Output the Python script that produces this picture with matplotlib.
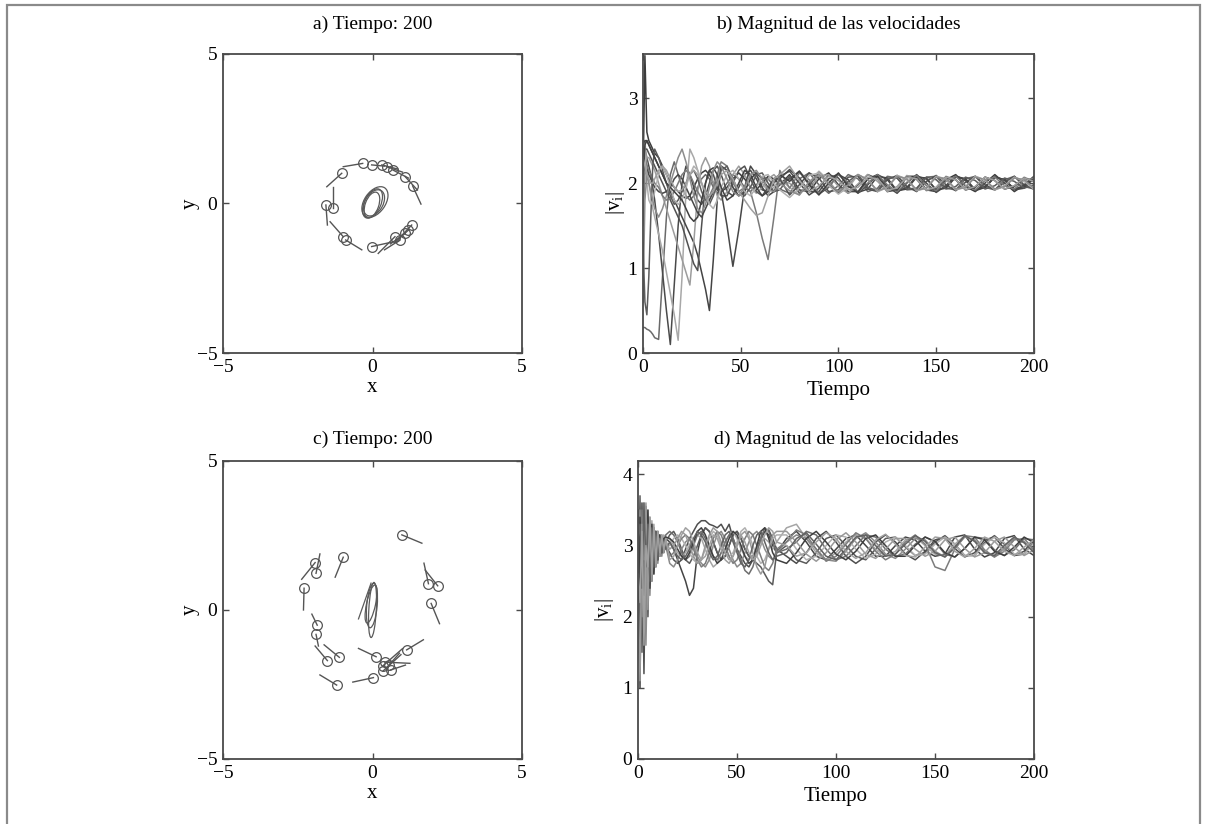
import numpy as np
import matplotlib
matplotlib.use("Agg")
import matplotlib.pyplot as plt
from matplotlib.patches import Ellipse

plt.rcParams['font.family'] = ['Liberation Serif', 'DejaVu Serif']
plt.rcParams['mathtext.fontset'] = 'custom'
plt.rcParams['mathtext.rm'] = 'Liberation Serif'
plt.rcParams['mathtext.it'] = 'Liberation Serif:italic'

# ---- panel a: positions (circles) and velocity tails ----
a_x = [-0.33, -0.03, 0.31, 0.47, 0.68, 1.09, 1.34, -1.03, -1.56, -1.33, -0.98, -0.90, -0.03, 0.75, 0.92, 1.09, 1.20, 1.31]
a_y = [1.34, 1.29, 1.29, 1.23, 1.12, 0.90, 0.59, 1.01, -0.05, -0.16, -1.11, -1.22, -1.44, -1.11, -1.22, -1.00, -0.89, -0.72]
a_tx = [-0.98, 0.40, 0.85, 1.00, 1.20, 1.50, 1.62, -1.53, -1.51, -1.33, -1.42, -0.36, 0.70, 0.19, 0.40, 0.60, 0.75, 0.90]
a_ty = [1.23, 1.25, 1.15, 1.05, 0.85, 0.45, -0.02, 0.56, -0.72, 0.54, -0.61, -1.55, -1.28, -1.67, -1.55, -1.35, -1.30, -1.15]
# central loops (cx, cy, width, height, angle)
a_loops = [(0.00, 0.00, 0.55, 1.05, -25), (0.08, 0.05, 0.70, 1.15, -35),
           (-0.02, -0.05, 0.45, 0.90, -20), (0.05, 0.02, 0.60, 0.95, -30)]

# ---- panel c ----
c_x = [0.98, -0.98, -1.92, -1.89, -2.29, 1.87, 2.18, 1.96, -1.85, -1.89, -1.51, -1.11, 0.12, -1.20, 0.03, 1.14, 0.34, 0.41, 0.35, 0.61, 0.55]
c_y = [2.52, 1.77, 1.59, 1.23, 0.73, 0.88, 0.81, 0.22, -0.51, -0.82, -1.70, -1.59, -1.57, -2.52, -2.27, -1.34, -1.88, -1.75, -2.05, -2.01, -1.85]
c_tx = [1.65, -1.25, -2.37, -1.76, -2.31, 1.72, 1.76, 2.24, -2.03, -1.81, -1.92, -1.62, -0.47, -1.76, -0.66, 1.70, 1.00, 1.25, 0.95, 1.10, 0.90]
c_ty = [2.24, 1.10, 1.03, 1.88, 0.00, 1.57, 1.34, -0.46, -0.14, -1.21, -1.21, -1.17, -1.29, -2.18, -2.42, -1.00, -1.30, -1.79, -1.50, -1.85, -1.45]
c_loops = [(-0.02, 0.15, 0.35, 1.50, -5), (0.00, 0.00, 0.25, 1.85, -3), (-0.05, 0.20, 0.30, 1.30, -12)]
c_path_x = [-0.05, -0.47]
c_path_y = [0.90, -0.30]

# ---- panel b: |v_i| vs time ----
tb = [0, 1, 2, 3, 4, 5, 6] + list(range(8, 41, 2)) + list(range(43, 71, 3)) + list(range(75, 201, 5))
b_early = [
    [2.0, 3.5, 2.6, 2.5, 2.45, 2.4, 2.35, 2.3, 2.2, 2.1, 2.0, 1.95, 1.9, 1.85, 1.82, 1.85, 1.95, 2.05, 2.12, 2.15, 2.1, 2.0, 1.92, 1.9, 1.95, 2.05, 2.12, 2.05, 1.95, 1.92, 2.0, 2.08, 2.05, 1.98],
    [0.3, 0.3, 0.28, 0.27, 0.25, 0.22, 0.18, 0.16, 0.9, 1.6, 2.1, 2.25, 2.1, 1.95, 1.85, 1.8, 1.85, 1.95, 2.05, 2.1, 2.05, 1.95, 1.88, 1.9, 2.0, 2.1, 2.05, 1.95, 1.9, 1.98, 2.06, 2.05, 1.97, 1.93],
    [2.2, 2.4, 2.3, 2.2, 2.1, 1.95, 1.8, 1.4, 0.95, 0.5, 0.1, 0.8, 1.5, 2.0, 2.2, 2.1, 1.95, 1.8, 1.75, 1.85, 2.0, 2.15, 2.2, 2.1, 1.9, 1.85, 1.95, 2.1, 2.15, 2.05, 1.92, 1.9, 2.0, 2.08],
    [1.8, 2.5, 2.2, 2.0, 1.85, 1.7, 1.6, 1.4, 1.2, 0.95, 0.7, 0.45, 0.15, 0.9, 1.9, 2.4, 2.3, 2.15, 2.0, 1.85, 1.8, 1.9, 2.05, 2.2, 2.15, 1.95, 1.85, 1.9, 2.05, 2.1, 2.0, 1.9, 1.95, 2.05],
    [2.4, 2.5, 2.5, 2.45, 2.4, 2.35, 2.3, 2.2, 2.1, 2.0, 1.9, 1.8, 1.7, 1.6, 1.5, 1.4, 1.3, 1.15, 0.95, 0.75, 0.5, 1.1, 1.8, 2.2, 2.15, 1.95, 1.85, 1.9, 2.05, 2.12, 2.05, 1.95, 1.9, 1.98],
    [2.0, 2.2, 2.3, 2.3, 2.25, 2.2, 2.15, 2.0, 1.85, 1.7, 1.55, 1.4, 1.25, 1.1, 0.95, 0.8, 1.3, 1.9, 2.2, 2.3, 2.2, 2.0, 1.85, 1.8, 1.9, 2.1, 2.2, 2.1, 1.95, 1.88, 1.95, 2.05, 2.1, 2.02],
    [2.3, 2.4, 2.4, 2.35, 2.3, 2.25, 2.2, 2.1, 2.0, 1.9, 1.8, 1.7, 1.6, 1.5, 1.35, 1.2, 1.05, 0.97, 1.5, 2.0, 2.15, 2.1, 1.95, 1.85, 1.85, 2.0, 2.15, 2.2, 2.05, 1.9, 1.85, 1.95, 2.05, 2.05],
    [2.1, 2.3, 2.2, 2.1, 2.05, 2.0, 1.95, 1.9, 1.88, 1.9, 1.95, 2.05, 2.1, 2.05, 1.95, 1.85, 1.75, 1.65, 1.6, 1.7, 1.8, 1.9, 1.95, 1.9, 1.5, 1.02, 1.45, 1.95, 2.2, 2.1, 1.95, 1.85, 1.9, 2.05],
    [1.5, 2.1, 2.2, 2.15, 2.1, 2.05, 2.0, 1.95, 1.85, 1.8, 1.82, 1.9, 2.0, 2.1, 2.15, 2.1, 2.0, 1.9, 1.82, 1.8, 1.85, 1.95, 2.1, 2.25, 2.2, 2.0, 1.9, 1.95, 1.9, 1.65, 1.35, 1.1, 1.6, 2.15],
    [1.3, 0.6, 0.45, 0.9, 1.6, 2.2, 2.4, 2.3, 2.15, 2.0, 1.85, 1.75, 1.8, 1.9, 2.0, 2.1, 2.15, 2.05, 1.9, 1.8, 1.75, 1.85, 2.0, 2.15, 2.2, 2.05, 1.9, 1.85, 1.95, 2.1, 2.12, 2.0, 1.9, 1.92],
    [2.5, 2.4, 2.0, 1.8, 1.75, 1.8, 1.9, 2.1, 2.2, 2.1, 1.95, 1.8, 1.75, 1.8, 1.95, 2.1, 2.2, 2.15, 2.0, 1.85, 1.75, 1.7, 1.8, 1.95, 2.1, 2.15, 2.05, 1.9, 1.85, 1.95, 2.08, 2.1, 2.0, 1.92],
    [2.0, 2.45, 2.5, 2.45, 2.4, 2.35, 2.3, 2.2, 2.1, 2.0, 1.95, 1.9, 1.85, 1.8, 1.7, 1.6, 1.55, 1.6, 1.8, 2.0, 2.15, 2.18, 2.1, 1.95, 1.8, 1.85, 2.0, 2.15, 2.1, 1.95, 1.85, 1.9, 2.05, 2.1],
    [0.6, 1.8, 2.1, 2.0, 1.9, 1.8, 1.7, 1.6, 1.7, 1.85, 2.0, 2.15, 2.3, 2.4, 2.25, 2.05, 1.85, 1.7, 1.65, 1.75, 1.95, 2.15, 2.25, 2.2, 2.05, 1.9, 1.85, 1.95, 2.1, 2.15, 2.05, 1.92, 1.9, 2.0],
    [2.3, 2.2, 2.1, 2.05, 2.0, 2.0, 2.05, 2.15, 2.2, 2.15, 2.05, 1.95, 1.9, 1.92, 2.0, 2.1, 2.15, 2.1, 2.0, 1.9, 1.85, 1.9, 2.0, 2.1, 2.15, 2.05, 1.9, 1.8, 1.7, 1.62, 1.65, 1.85, 2.05, 2.1],
]
b_late = [
    [2.10, 1.92, 1.90, 2.05, 2.12, 1.98, 1.88, 1.98, 2.10, 2.05, 1.90, 1.92, 2.08, 2.08, 1.92, 1.90, 2.04, 2.10, 1.96, 1.90, 2.00, 2.10, 2.00, 1.90, 1.98, 2.08],
    [1.88, 2.05, 2.12, 1.98, 1.88, 1.97, 2.10, 2.05, 1.90, 1.94, 2.08, 2.06, 1.92, 1.93, 2.07, 2.08, 1.94, 1.92, 2.05, 2.08, 1.95, 1.92, 2.04, 2.08, 1.96, 1.93],
    [2.14, 2.00, 1.86, 1.94, 2.10, 2.06, 1.90, 1.90, 2.05, 2.10, 1.96, 1.88, 2.00, 2.10, 2.00, 1.89, 1.97, 2.09, 2.03, 1.91, 1.95, 2.07, 2.04, 1.92, 1.94, 2.06],
    [1.95, 1.86, 2.00, 2.14, 2.03, 1.88, 1.94, 2.10, 2.04, 1.90, 1.95, 2.09, 2.05, 1.91, 1.94, 2.08, 2.05, 1.92, 1.95, 2.08, 2.04, 1.92, 1.96, 2.07, 2.03, 1.93],
    [2.05, 2.14, 2.00, 1.87, 1.95, 2.10, 2.04, 1.89, 1.93, 2.08, 2.06, 1.91, 1.93, 2.07, 2.06, 1.92, 1.94, 2.07, 2.05, 1.92, 1.95, 2.07, 2.04, 1.93, 1.95, 2.06],
    [2.00, 1.89, 1.94, 2.08, 2.10, 1.96, 1.88, 1.99, 2.10, 2.02, 1.90, 1.96, 2.09, 2.04, 1.91, 1.95, 2.08, 2.04, 1.92, 1.96, 2.07, 2.03, 1.93, 1.97, 2.07, 2.02],
    [1.86, 1.98, 2.12, 2.06, 1.90, 1.92, 2.07, 2.08, 1.93, 1.90, 2.04, 2.09, 1.96, 1.90, 2.02, 2.09, 1.98, 1.91, 2.01, 2.08, 1.98, 1.92, 2.01, 2.08, 1.98, 1.93],
    [2.16, 2.06, 1.90, 1.90, 2.05, 2.11, 1.98, 1.88, 1.98, 2.10, 2.04, 1.90, 1.95, 2.08, 2.05, 1.92, 1.95, 2.08, 2.05, 1.92, 1.96, 2.07, 2.04, 1.93, 1.97, 2.06],
    [1.94, 2.12, 2.04, 1.88, 1.96, 2.10, 2.00, 1.89, 2.00, 2.10, 1.98, 1.90, 2.01, 2.09, 1.97, 1.91, 2.02, 2.08, 1.97, 1.92, 2.03, 2.07, 1.97, 1.93, 2.03, 2.06],
    [2.08, 1.88, 1.97, 2.12, 1.99, 1.88, 2.02, 2.10, 1.95, 1.91, 2.06, 2.06, 1.93, 1.94, 2.07, 2.04, 1.93, 1.96, 2.07, 2.03, 1.93, 1.97, 2.06, 2.02, 1.94, 1.98],
    [1.83, 1.94, 2.09, 2.12, 1.97, 1.87, 1.96, 2.10, 2.04, 1.90, 1.95, 2.09, 2.04, 1.91, 1.95, 2.08, 2.04, 1.92, 1.96, 2.08, 2.03, 1.92, 1.97, 2.07, 2.02, 1.93],
    [2.02, 2.14, 1.98, 1.86, 2.00, 2.12, 1.96, 1.89, 2.05, 2.08, 1.93, 1.92, 2.07, 2.05, 1.92, 1.94, 2.07, 2.04, 1.92, 1.95, 2.07, 2.03, 1.93, 1.96, 2.06, 2.02],
    [1.91, 1.86, 2.02, 2.10, 2.00, 1.90, 1.98, 2.10, 2.04, 1.91, 1.95, 2.08, 2.05, 1.92, 1.94, 2.07, 2.05, 1.93, 1.95, 2.07, 2.04, 1.93, 1.96, 2.06, 2.04, 1.94],
    [2.20, 2.03, 1.90, 1.97, 2.08, 2.03, 1.92, 1.95, 2.07, 2.05, 1.92, 1.94, 2.07, 2.05, 1.92, 1.95, 2.07, 2.04, 1.92, 1.96, 2.07, 2.03, 1.93, 1.97, 2.06, 2.02],
]
b_gray = ['#3c3c3c', '#6a6a6a', '#4a4a4a', '#a8a8a8', '#444444', '#9c9c9c', '#505050',
          '#474747', '#7a7a7a', '#5c5c5c', '#b0b0b0', '#404040', '#8c8c8c', '#a0a0a0']

# ---- panel d ----
td = list(range(0, 15)) + list(range(16, 71, 2)) + list(range(75, 201, 5))
d_early = [
    [3.0, 1.0, 3.6, 1.8, 3.4, 2.3, 3.3, 2.6, 3.2, 2.8, 3.15, 2.9, 3.1, 2.95, 3.1],
    [2.0, 3.7, 1.5, 3.5, 2.1, 3.4, 2.5, 3.3, 2.7, 3.2, 2.85, 3.15, 2.9, 3.1, 3.05],
    [3.5, 2.2, 3.4, 1.2, 3.3, 2.0, 3.25, 2.5, 3.2, 2.7, 3.1, 2.85, 3.1, 2.9, 3.0],
    [1.5, 3.3, 2.5, 3.6, 2.2, 3.5, 2.5, 3.35, 2.7, 3.2, 2.8, 3.15, 2.9, 3.15, 3.1],
    [2.8, 3.5, 2.0, 3.3, 1.6, 3.2, 2.3, 3.2, 2.6, 3.15, 2.75, 3.1, 2.85, 3.05, 3.0],
    [3.2, 1.4, 3.1, 2.6, 3.55, 2.4, 3.3, 2.55, 3.25, 2.75, 3.2, 2.85, 3.15, 2.95, 3.15],
    [2.5, 3.0, 3.4, 1.9, 3.45, 2.6, 3.3, 2.65, 3.2, 2.8, 3.1, 2.9, 3.1, 2.95, 3.05],
    [3.3, 2.6, 3.5, 2.3, 3.2, 2.8, 3.4, 2.7, 3.25, 2.8, 3.2, 2.9, 3.12, 2.95, 2.98],
    [1.8, 3.4, 2.7, 3.2, 2.9, 3.5, 2.4, 3.3, 2.6, 3.2, 2.8, 3.15, 2.9, 3.1, 3.12],
    [2.2, 1.1, 3.3, 2.8, 3.6, 2.1, 3.35, 2.5, 3.2, 2.7, 3.15, 2.85, 3.1, 2.9, 3.05],
    [3.1, 3.3, 2.4, 3.6, 2.7, 3.3, 2.5, 3.25, 2.7, 3.2, 2.8, 3.1, 2.9, 3.05, 2.95],
    [2.6, 2.2, 3.2, 1.6, 3.0, 2.7, 3.4, 2.6, 3.3, 2.75, 3.2, 2.9, 3.15, 2.95, 3.1],
]
d_mid = [
    [3.05, 2.95, 2.8, 2.65, 2.5, 2.3, 2.4, 2.9, 3.15, 3.25, 3.2, 3.05, 2.9, 2.8, 2.85, 3.0, 3.15, 3.2, 3.1, 2.95, 2.85, 2.85, 2.95, 3.1, 3.2, 3.15, 3.0, 2.9],
    [3.15, 3.2, 3.1, 2.95, 2.8, 2.75, 2.85, 3.0, 3.15, 3.25, 3.2, 3.05, 2.9, 2.8, 2.85, 3.0, 3.15, 3.2, 3.1, 2.95, 2.85, 2.8, 2.75, 2.7, 2.6, 2.5, 2.45, 2.9],
    [2.9, 2.8, 2.75, 2.8, 2.95, 3.1, 3.2, 3.3, 3.35, 3.35, 3.3, 3.28, 3.25, 3.3, 3.2, 3.3, 3.1, 2.95, 2.85, 2.75, 2.7, 2.8, 2.95, 3.1, 3.2, 3.22, 3.1, 2.95],
    [3.1, 3.0, 2.9, 2.85, 2.9, 3.0, 3.1, 3.15, 3.1, 2.95, 2.8, 2.7, 2.75, 2.9, 3.05, 3.15, 3.2, 3.1, 2.95, 2.85, 2.8, 2.85, 2.95, 3.05, 3.1, 3.05, 2.95, 3.05],
    [2.75, 2.7, 2.8, 2.95, 3.05, 3.1, 3.0, 2.85, 2.75, 2.7, 2.8, 3.0, 3.15, 3.2, 3.1, 2.95, 2.8, 2.7, 2.75, 2.9, 3.05, 3.15, 3.2, 3.1, 2.95, 2.85, 2.8, 2.9],
    [3.2, 3.15, 3.05, 2.9, 2.8, 2.85, 3.0, 3.15, 3.2, 3.1, 2.95, 2.85, 2.8, 2.9, 3.05, 3.15, 3.1, 2.95, 2.8, 2.65, 2.6, 2.7, 2.9, 3.1, 3.25, 3.2, 3.05, 2.9],
    [3.0, 3.1, 3.15, 3.1, 3.0, 2.9, 2.8, 2.75, 2.8, 2.95, 3.1, 3.2, 3.15, 3.0, 2.9, 2.85, 2.9, 3.05, 3.2, 3.25, 3.15, 3.0, 2.85, 2.75, 2.8, 2.95, 3.1, 3.15],
    [2.85, 2.9, 3.0, 3.1, 3.15, 3.1, 2.95, 2.8, 2.7, 2.75, 2.9, 3.1, 3.2, 3.15, 3.0, 2.85, 2.75, 2.8, 2.95, 3.1, 3.2, 3.15, 3.0, 2.85, 2.7, 2.65, 2.75, 2.95],
    [3.1, 3.05, 2.95, 2.85, 2.8, 2.9, 3.05, 3.2, 3.25, 3.15, 3.0, 2.85, 2.75, 2.8, 2.95, 3.1, 3.2, 3.15, 3.0, 2.85, 2.75, 2.8, 3.0, 3.2, 3.25, 3.1, 2.9, 2.8],
    [2.95, 3.0, 3.1, 3.2, 3.15, 3.0, 2.85, 2.75, 2.8, 3.0, 3.15, 3.25, 3.2, 3.05, 2.9, 2.8, 2.85, 3.0, 3.15, 3.2, 3.1, 2.9, 2.7, 2.6, 2.7, 2.95, 3.15, 3.2],
    [3.05, 2.95, 2.85, 2.8, 2.85, 2.95, 3.1, 3.2, 3.15, 3.05, 2.9, 2.8, 2.85, 3.0, 3.15, 3.2, 3.05, 2.9, 2.75, 2.7, 2.8, 3.0, 3.15, 3.2, 3.05, 2.9, 2.8, 2.85],
    [2.8, 2.85, 3.0, 3.15, 3.25, 3.2, 3.05, 2.9, 2.8, 2.85, 3.0, 3.15, 3.1, 2.95, 2.8, 2.75, 2.85, 3.0, 3.15, 3.05, 2.9, 2.8, 2.85, 3.0, 3.15, 3.25, 3.2, 3.05],
]
d_late = [
    [3.10, 3.20, 3.05, 2.85, 2.80, 2.95, 3.10, 3.15, 3.00, 2.85, 2.85, 3.00, 3.12, 3.08, 2.92, 2.85, 2.88, 3.12, 3.15, 2.95, 2.84, 2.90, 3.10, 3.14, 2.95, 2.86],
    [3.00, 2.80, 2.75, 2.90, 3.10, 3.15, 3.00, 2.85, 2.80, 2.95, 3.10, 3.12, 2.98, 2.86, 2.90, 3.05, 3.14, 3.02, 2.86, 2.86, 3.04, 3.14, 3.02, 2.86, 2.88, 3.06],
    [2.85, 2.75, 2.90, 3.10, 3.20, 3.05, 2.85, 2.75, 2.85, 3.05, 3.15, 3.05, 2.88, 2.80, 2.92, 3.08, 3.12, 2.96, 2.84, 2.90, 3.08, 3.12, 2.96, 2.86, 2.92, 3.10],
    [3.25, 3.30, 3.10, 2.90, 2.80, 2.90, 3.05, 3.15, 3.10, 2.95, 2.85, 2.92, 3.08, 3.12, 3.00, 2.88, 2.86, 3.02, 3.14, 3.06, 2.90, 2.86, 3.00, 3.12, 3.04, 2.92],
    [3.05, 3.15, 3.10, 2.95, 2.80, 2.78, 2.92, 3.10, 3.18, 3.05, 2.88, 2.82, 2.95, 3.10, 3.08, 2.92, 2.84, 2.96, 3.12, 3.08, 2.92, 2.84, 2.96, 3.10, 3.06, 2.92],
    [2.95, 3.05, 3.20, 3.15, 2.95, 2.80, 2.85, 3.00, 3.15, 3.12, 2.95, 2.85, 2.88, 3.02, 3.12, 3.05, 2.88, 2.84, 2.96, 3.12, 3.10, 2.94, 2.86, 2.94, 3.10, 3.08],
    [3.15, 2.95, 2.80, 2.85, 3.00, 3.15, 3.12, 2.95, 2.82, 2.88, 3.05, 3.12, 3.00, 2.86, 2.88, 3.02, 3.12, 3.02, 2.86, 2.86, 3.02, 3.12, 3.04, 2.88, 2.88, 3.04],
    [3.05, 3.22, 3.15, 2.95, 2.78, 2.85, 3.02, 3.18, 3.10, 2.92, 2.80, 2.88, 3.05, 3.15, 3.02, 2.70, 2.65, 2.95, 3.14, 3.12, 2.94, 2.84, 2.92, 3.08, 3.10, 2.94],
    [2.75, 2.90, 3.10, 3.20, 3.05, 2.88, 2.80, 2.92, 3.10, 3.15, 3.00, 2.85, 2.85, 3.00, 3.12, 3.06, 2.90, 2.84, 2.96, 3.12, 3.08, 2.92, 2.86, 2.98, 3.12, 3.04],
    [3.20, 3.05, 2.88, 2.78, 2.90, 3.08, 3.18, 3.05, 2.88, 2.82, 2.95, 3.10, 3.10, 2.95, 2.85, 2.92, 3.08, 3.12, 2.96, 2.84, 2.90, 3.06, 3.12, 2.98, 2.86, 2.94],
    [2.90, 3.10, 3.18, 3.02, 2.85, 2.80, 2.95, 3.12, 3.15, 3.00, 2.85, 2.88, 3.02, 3.14, 3.06, 2.90, 2.84, 2.98, 3.14, 3.06, 2.90, 2.86, 3.00, 3.12, 3.04, 2.90],
    [3.00, 2.85, 2.90, 3.05, 3.18, 3.10, 2.92, 2.82, 2.90, 3.08, 3.16, 3.02, 2.86, 2.84, 2.98, 3.12, 3.10, 2.92, 2.84, 2.96, 3.12, 3.06, 2.92, 2.86, 2.98, 3.08],
]
d_gray = ['#454545', '#5a5a5a', '#4e4e4e', '#a5a5a5', '#8a8a8a', '#6e6e6e',
          '#b0b0b0', '#7c7c7c', '#3e3e3e', '#999999', '#626262', '#a0a0a0']

spine_col = '#4a4a4a'
mark_col = '#555555'


def style(ax):
    for s in ax.spines.values():
        s.set_color(spine_col)
        s.set_linewidth(1.3)
    ax.tick_params(direction='in', top=True, right=True, length=4, width=1,
                   color=spine_col, labelsize=14)
    ax.tick_params(axis='x', pad=4)
    ax.tick_params(axis='y', pad=4)


def swarm(ax, xs, ys, txs, tys, loops, title, tpad):
    for x, y, tx, ty in zip(xs, ys, txs, tys):
        ax.plot([x, tx], [y, ty], color=mark_col, lw=1.0)
    ax.plot(xs, ys, 'o', mfc='none', mec=mark_col, ms=7, mew=0.9)
    for cx, cy, w, h, ang in loops:
        ax.add_patch(Ellipse((cx, cy), w, h, angle=ang, fill=False, ec='#5a5a5a', lw=0.9))
    ax.set_xlim(-5, 5)
    ax.set_ylim(-5, 5)
    ax.set_xticks([-5, 0, 5])
    ax.set_yticks([-5, 0, 5])
    ax.set_xlabel('x', fontsize=15)
    ax.set_ylabel('y', fontsize=15)
    ax.xaxis.set_label_coords(0.5, -0.085)
    ax.yaxis.set_label_coords(-0.077, 0.5)
    ax.set_title(title, fontsize=14, pad=tpad)
    style(ax)


def speeds(ax, t, rows, grays, ymax, yticks, title, ylab_x, tpad):
    for vals, g in zip(rows, grays):
        ax.plot(t, vals, color=g, lw=1.1)
    ax.set_xlim(0, 200)
    ax.set_ylim(0, ymax)
    ax.set_xticks([0, 50, 100, 150, 200])
    ax.set_yticks(yticks)
    ax.set_xlabel('Tiempo', fontsize=15)
    ax.set_ylabel(r'$\mathrm{|v_i|}$', fontsize=15)
    ax.xaxis.set_label_coords(0.5, -0.095)
    ax.yaxis.set_label_coords(ylab_x, 0.5)
    ax.set_title(title, fontsize=14, pad=tpad)
    style(ax)


fig = plt.figure(figsize=(12.07, 8.24), dpi=100)
ax_a = fig.add_axes([0.1848, 0.5716, 0.2477, 0.3629])
ax_b = fig.add_axes([0.5327, 0.5716, 0.3239, 0.3629])
ax_c = fig.add_axes([0.1848, 0.0789, 0.2477, 0.3617])
ax_d = fig.add_axes([0.5286, 0.0789, 0.3281, 0.3617])

swarm(ax_a, a_x, a_y, a_tx, a_ty, a_loops, 'a) Tiempo: 200', 18)
swarm(ax_c, c_x, c_y, c_tx, c_ty, c_loops, 'c) Tiempo: 200', 12)
ax_c.plot(c_path_x, c_path_y, color='#5a5a5a', lw=0.9)

speeds(ax_b, tb, [e + l for e, l in zip(b_early, b_late)], b_gray, 3.52, [0, 1, 2, 3],
       'b) Magnitud de las velocidades', -0.04, 18)
speeds(ax_d, td, [e + m + l for e, m, l in zip(d_early, d_mid, d_late)], d_gray, 4.19,
       [0, 1, 2, 3, 4], 'd) Magnitud de las velocidades', -0.055, 12)

# outer frame of the figure
frame = plt.Rectangle((0.0058, -0.05), 0.988, 1.0439, transform=fig.transFigure,
                      fill=False, ec='#8a8a8a', lw=1.6)
fig.add_artist(frame)

fig.savefig('out.png', dpi=100)
